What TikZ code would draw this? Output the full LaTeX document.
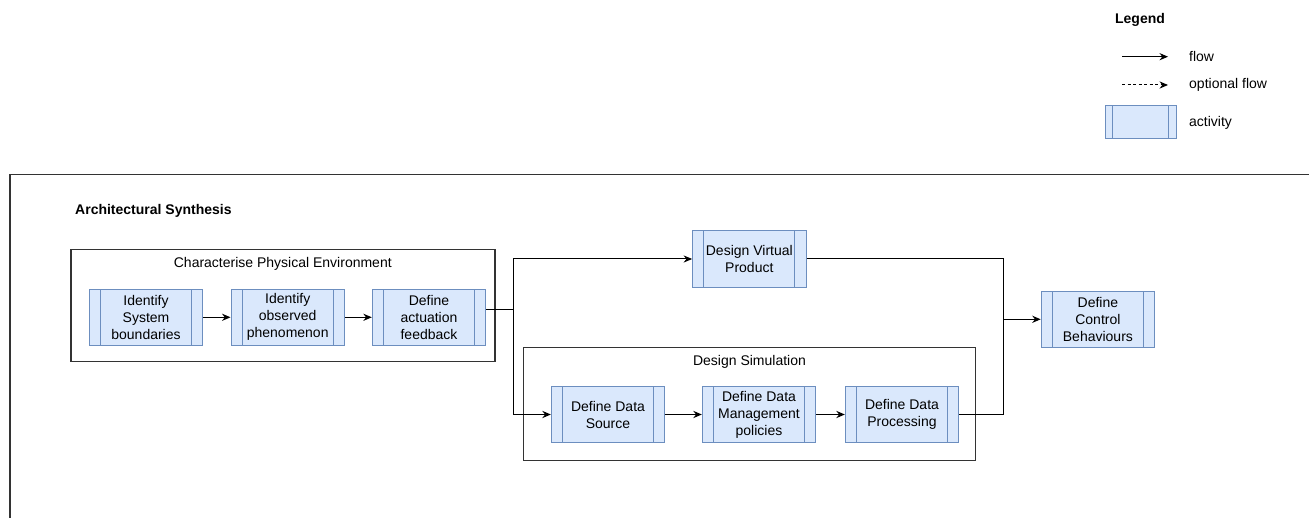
\documentclass[tikz,border=0pt]{standalone}
\usepackage{fontspec}
\setmainfont{Liberation Sans}
\usetikzlibrary{arrows.meta,calc}

\definecolor{actfill}{HTML}{DAE8FC}
\definecolor{actline}{HTML}{6C8EBF}
\definecolor{framecol}{HTML}{333333}

\begin{document}
\begin{tikzpicture}[x=1pt,y=-1pt,
  txt/.style={font=\fontsize{14}{17}\selectfont, inner sep=0pt},
  boldtxt/.style={font=\fontsize{14}{17}\selectfont\bfseries, inner sep=0pt},
  procinset/.initial=11.3pt,
  actbox/.style={draw=actline, fill=actfill, line width=1pt,
    minimum width=113.4pt, minimum height=56.4pt, inner sep=0pt,
    align=center, font=\fontsize{14}{17}\selectfont,
    path picture={
      \draw[actline, line width=1pt]
        ([xshift=\pgfkeysvalueof{/tikz/procinset}]path picture bounding box.north west) --
        ([xshift=\pgfkeysvalueof{/tikz/procinset}]path picture bounding box.south west)
        ([xshift=-\pgfkeysvalueof{/tikz/procinset}]path picture bounding box.north east) --
        ([xshift=-\pgfkeysvalueof{/tikz/procinset}]path picture bounding box.south east);
    }},
  group/.style={draw=framecol, line width=1.1pt},
  link/.style={draw=black, line width=1pt},
  flow/.style={link, -{Stealth[length=8.5pt,width=7.2pt,inset=2.8pt]}},
  optflow/.style={flow, dash pattern=on 3pt off 2.5pt},
]
\useasboundingbox (0,0) rectangle (1309,518);

% outer frame of the synthesis stage
\draw[group] (10,530) -- (10,174.3) -- (1315,174.3);
\node[boldtxt, anchor=west] (title) at (75,210.5) {Architectural Synthesis};

% legend
\node[boldtxt] (legend) at (1140,20) {Legend};
\coordinate (lf1) at (1122,56.7);
\coordinate (lf2) at (1168,56.7);
\draw[flow] (lf1) -- (lf2);
\node[txt, anchor=west] (lflow) at (1189,57) {flow};
\coordinate (lo1) at (1122,85);
\coordinate (lo2) at (1168,85);
\draw[optflow] (lo1) -- (lo2);
\node[txt, anchor=west] (lopt) at (1189,85) {optional flow};
\node[actbox, minimum width=71pt, minimum height=33pt, procinset=7.4pt] (lact) at (1140.5,122.5) {};
\node[txt, anchor=west] (lacttxt) at (1189,123) {activity};

% Characterise Physical Environment
\draw[group] (71,249.5) rectangle (495,361.5);
\node[txt] (cpe) at (282.8,264.3) {Characterise Physical Environment};
\node[actbox] (b1) at (146,317.3) {Identify\\System\\boundaries};
\node[actbox] (b2) at (287.7,317.3) {Identify\\observed\\phenomenon};
\node[actbox] (b3) at (429,317.3) {Define\\actuation\\feedback};
\draw[flow] (b1) -- (b2);
\draw[flow] (b2) -- (b3);

% Design Virtual Product
\node[actbox] (dvp) at (749.3,259) {Design Virtual\\Product};

% Design Simulation
\draw[group] (523.3,347.7) rectangle (975.5,460.7);
\node[txt] (ds) at (749.5,361.7) {Design Simulation};
\node[actbox] (dds) at (608,414.5) {Define Data\\Source};
\node[actbox] (ddm) at (759,414.5) {Define Data\\Management\\policies};
\node[actbox] (ddp) at (902,414.5) {Define Data\\Processing};
\draw[flow] (dds) -- (ddm);
\draw[flow] (ddm) -- (ddp);

% Define Control Behaviours
\node[actbox] (dcb) at (1097.9,319.3) {Define\\Control\\Behaviours};

% split after the physical environment
\coordinate (split) at (513.3,310);
\draw[link] (b3.east |- split) -- (split);
\draw[flow] (split) |- (dvp);
\draw[flow] (split) |- (dds);

% merge before the control behaviours
\coordinate (merge) at (1003.3,319.3);
\draw[link] (dvp.east) -| (merge);
\draw[link] (ddp.east) -| (merge);
\draw[flow] (merge) -- (dcb);
\end{tikzpicture}
\end{document}
